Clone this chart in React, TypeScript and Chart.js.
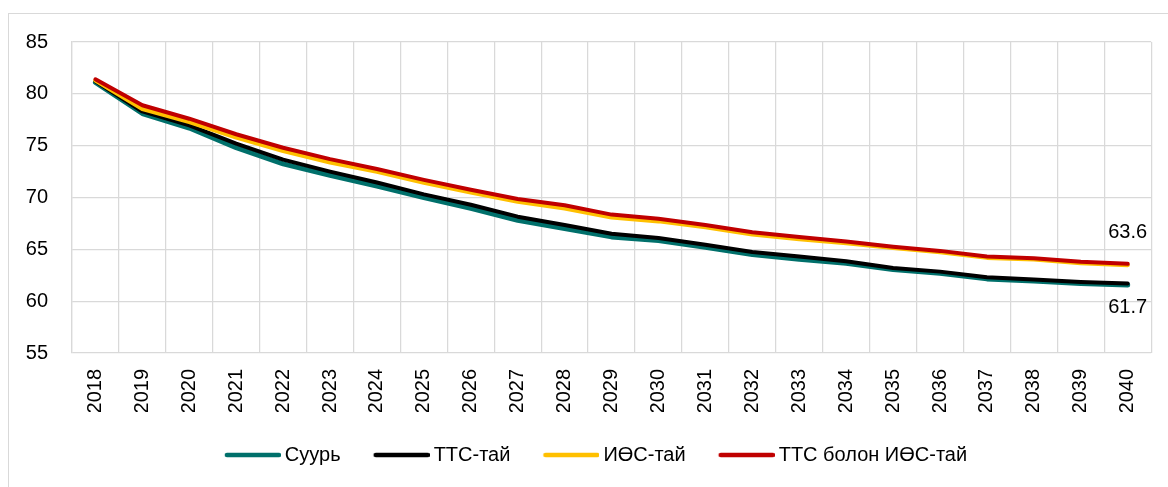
import React, { useEffect, useRef } from "react";
import { Chart, registerables } from "chart.js";

Chart.register(...registerables);

const years = [
  "2018", "2019", "2020", "2021", "2022", "2023", "2024", "2025", "2026", "2027", "2028", "2029",
  "2030", "2031", "2032", "2033", "2034", "2035", "2036", "2037", "2038", "2039", "2040",
];

const seriesNames = ["Суурь", "ТТС-тай", "ИӨС-тай", "ТТС болон ИӨС-тай"];

const suur = [
  81.1, 78.1, 76.7, 74.8, 73.25, 72.15, 71.1, 70.0, 68.95, 67.8, 67.0, 66.2,
  65.85, 65.2, 64.5, 64.05, 63.65, 63.05, 62.7, 62.15, 61.95, 61.7, 61.55,
];

const ttsTai = [
  81.2, 78.3, 76.95, 75.2, 73.65, 72.5, 71.45, 70.3, 69.3, 68.15, 67.35, 66.5,
  66.1, 65.45, 64.75, 64.3, 63.85, 63.2, 62.85, 62.3, 62.1, 61.85, 61.7,
];

const iosTai = [
  81.3, 78.55, 77.3, 75.8, 74.5, 73.4, 72.5, 71.45, 70.5, 69.6, 68.95, 68.1,
  67.72, 67.15, 66.45, 66.0, 65.6, 65.15, 64.75, 64.2, 64.05, 63.68, 63.5,
];

const ttsIos = [
  81.4, 78.9, 77.6, 76.1, 74.8, 73.7, 72.75, 71.7, 70.75, 69.85, 69.25, 68.35,
  67.95, 67.35, 66.65, 66.2, 65.75, 65.25, 64.85, 64.3, 64.15, 63.8, 63.6,
];

const seriesColors = ["#00706B", "#000000", "#FFC000", "#C00000"];
const seriesWidths = [5, 4, 4.5, 4];
const seriesOrder = [4, 3, 2, 1];

const FONT = "'Liberation Sans', Arial, sans-serif";

const endLabelSpecs = [
  { dataset: 3, dy: -31 },
  { dataset: 1, dy: 24 },
];

function makeLegendMarker(color: string, width: number): HTMLCanvasElement {
  const c = document.createElement("canvas");
  c.width = 62;
  c.height = 10;
  const ctx = c.getContext("2d");
  if (ctx) {
    ctx.strokeStyle = color;
    ctx.lineWidth = width;
    ctx.lineCap = "round";
    ctx.beginPath();
    ctx.moveTo(8, 5);
    ctx.lineTo(60, 5);
    ctx.stroke();
  }
  return c;
}

const endLabelsPlugin = {
  id: "endLabels",
  afterDatasetsDraw(chart: any) {
    const ctx = chart.ctx;
    ctx.save();
    ctx.font = `20px ${FONT}`;
    ctx.fillStyle = "#000";
    ctx.textAlign = "center";
    ctx.textBaseline = "middle";
    endLabelSpecs.forEach((spec) => {
      const meta = chart.getDatasetMeta(spec.dataset);
      const n = meta.data.length;
      const pt = meta.data[n - 1];
      const v = chart.data.datasets[spec.dataset].data[n - 1] as number;
      ctx.fillText(v.toFixed(1), pt.x, pt.y + spec.dy);
    });
    ctx.restore();
  },
};

export default function App() {
  const canvasRef = useRef<HTMLCanvasElement | null>(null);

  useEffect(() => {
    const canvas = canvasRef.current;
    if (!canvas) return;
    const allData = [suur, ttsTai, iosTai, ttsIos];
    const chart = new Chart(canvas, {
      type: "line",
      data: {
        labels: years,
        datasets: allData.map((d, i) => ({
          label: seriesNames[i],
          data: d,
          borderColor: seriesColors[i],
          backgroundColor: seriesColors[i],
          borderWidth: seriesWidths[i],
          borderCapStyle: "round",
          borderJoinStyle: "round",
          pointRadius: 0,
          pointHoverRadius: 0,
          pointStyle: makeLegendMarker(seriesColors[i], 4.5),
          tension: 0,
          fill: false,
          order: seriesOrder[i],
        })),
      },
      options: {
        animation: false,
        responsive: false,
        devicePixelRatio: 1,
        layout: { padding: { left: 24, right: 0, top: 42, bottom: 12 } },
        plugins: {
          legend: {
            position: "bottom",
            labels: {
              usePointStyle: true,
              pointStyleWidth: 50,
              boxHeight: 20,
              padding: 33,
              color: "#000",
              font: { family: FONT, size: 20 },
              sort: (a: any, b: any) => a.datasetIndex - b.datasetIndex,
            },
          },
          tooltip: { enabled: false },
        },
        scales: {
          x: {
            type: "category",
            offset: true,
            afterFit: (scale: any) => {
              scale.height = 59;
            },
            grid: {
              offset: true,
              color: "#d9d9d9",
              lineWidth: 1.25,
              drawTicks: false,
            },
            border: { display: false },
            ticks: {
              autoSkip: false,
              minRotation: 90,
              maxRotation: 90,
              padding: 16,
              color: "#000",
              font: { family: FONT, size: 20 },
            },
          },
          y: {
            min: 55,
            max: 85,
            afterFit: (scale: any) => {
              scale.width = 48;
            },
            grid: {
              color: "#d9d9d9",
              lineWidth: 1.25,
              drawTicks: false,
            },
            border: { display: true, color: "#d9d9d9", width: 1.25 },
            ticks: {
              stepSize: 5,
              padding: 24,
              color: "#000",
              font: { family: FONT, size: 20 },
            },
          },
          yRightSpacer: {
            position: "right",
            display: true,
            afterFit: (scale: any) => {
              scale.width = 14;
            },
            grid: { display: false, drawTicks: false },
            border: { display: false },
            ticks: { display: false },
          },
        },
      },
      plugins: [endLabelsPlugin],
    } as any);
    return () => chart.destroy();
  }, []);

  return (
    <div style={{ position: "absolute", left: 0, top: 0, width: 1168, height: 487, overflow: "hidden", background: "#fff" }}>
      <div
        style={{
          position: "absolute",
          left: 8,
          top: 13,
          width: 1200,
          height: 500,
          borderTop: "1px solid #d9d9d9",
          borderLeft: "1px solid #d9d9d9",
        }}
      />
      <canvas ref={canvasRef} width={1168} height={487} style={{ position: "absolute", left: 0, top: 0 }} />
    </div>
  );
}
